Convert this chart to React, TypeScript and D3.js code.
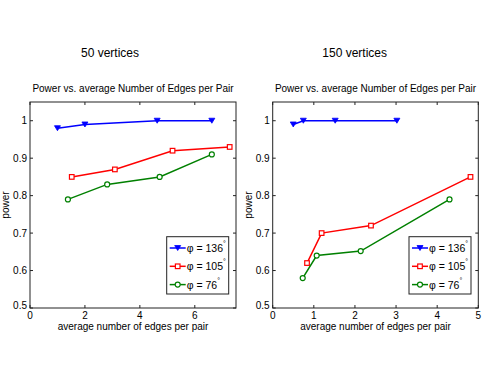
import React from "react";
import * as d3 from "d3";

// 50 vertices panel
const x50Blue = [1.0, 2.0, 4.63, 6.62];
const y50Blue = [0.98, 0.99, 1.0, 1.0];
const x50Red = [1.52, 3.09, 5.19, 7.27];
const y50Red = [0.85, 0.87, 0.92, 0.93];
const x50Green = [1.38, 2.81, 4.72, 6.62];
const y50Green = [0.79, 0.83, 0.85, 0.91];

// 150 vertices panel
const x150Blue = [0.5, 0.745, 1.52, 3.02];
const y150Blue = [0.99, 1.0, 1.0, 1.0];
const x150Red = [0.835, 1.19, 2.39, 4.81];
const y150Red = [0.62, 0.7, 0.72, 0.85];
const x150Green = [0.73, 1.07, 2.14, 4.3];
const y150Green = [0.58, 0.64, 0.652, 0.79];

const legendLabels = ["136", "105", "76"];
const seriesColors = ["#0000ff", "#ff0000", "#008000"];
const seriesMarkers = ["tri", "square", "circle"];

const yTicks = [0.5, 0.6, 0.7, 0.8, 0.9, 1];
const xTicks50 = [0, 2, 4, 6];
const xTicks150 = [0, 1, 2, 3, 4, 5];

const FONT = "'Liberation Sans', Arial, Helvetica, sans-serif";

function Marker({ kind, x, y, color }: { kind: string; x: number; y: number; color: string }) {
  if (kind === "tri") {
    return <path d={`M${x - 3},${y - 2.5}L${x + 3},${y - 2.5}L${x},${y + 2.5}Z`} fill={color} stroke={color} strokeWidth={0.8} />;
  }
  if (kind === "square") {
    return <rect x={x - 2.3} y={y - 2.3} width={4.6} height={4.6} fill="white" stroke={color} strokeWidth={1.2} />;
  }
  return <circle cx={x} cy={y} r={2.5} fill="white" stroke={color} strokeWidth={1.2} />;
}

type PanelProps = {
  left: number;
  right: number;
  xMax: number;
  xTicks: number[];
  series: [number[], number[]][];
  heading: string;
  headingX: number;
};

function Panel({ left, right, xMax, xTicks, series, heading, headingX }: PanelProps) {
  const top = 102;
  const bottom = 308;
  const x = d3.scaleLinear().domain([0, xMax]).range([left, right]);
  const y = d3.scaleLinear().domain([0.5, 1.05]).range([bottom, top]);
  const line = d3.line<[number, number]>().x(d => x(d[0])).y(d => y(d[1]));
  const tl = 3;

  const lx = right - 69.3;
  const ly = 236.7;

  return (
    <g>
      <text x={headingX} y={57} fontSize={12} textAnchor="middle">{heading}</text>
      <text x={(left + right) / 2} y={92} fontSize={10} textAnchor="middle">
        Power vs. average Number of Edges per Pair
      </text>
      <rect x={left} y={top} width={right - left} height={bottom - top} fill="white" stroke="#222" strokeWidth={1} />
      {xTicks.map(t => (
        <g key={"x" + t}>
          <line x1={x(t)} x2={x(t)} y1={bottom} y2={bottom - tl} stroke="#222" />
          <line x1={x(t)} x2={x(t)} y1={top} y2={top + tl} stroke="#222" />
          <text x={x(t)} y={318.5} fontSize={10} textAnchor="middle">{t}</text>
        </g>
      ))}
      {yTicks.map(t => (
        <g key={"y" + t}>
          <line x1={left} x2={left + tl} y1={y(t)} y2={y(t)} stroke="#222" />
          <line x1={right} x2={right - tl} y1={y(t)} y2={y(t)} stroke="#222" />
          <text x={left - 3} y={t === 0.5 ? y(t) + 0.5 : y(t) + 3.5} fontSize={10} textAnchor="end">{t}</text>
        </g>
      ))}
      <text x={(left + right) / 2} y={330} fontSize={10} textAnchor="middle">average number of edges per pair</text>
      <text transform={`translate(${left - 21},${(top + bottom) / 2}) rotate(-90)`} fontSize={10} textAnchor="middle">power</text>

      {series.map(([xs, ys], i) => {
        const pts = xs.map((v, j) => [v, ys[j]] as [number, number]);
        return (
          <g key={"s" + i}>
            <path d={line(pts) || ""} fill="none" stroke={seriesColors[i]} strokeWidth={1.5} />
            {pts.map((p, j) => (
              <Marker key={j} kind={seriesMarkers[i]} x={x(p[0])} y={y(p[1])} color={seriesColors[i]} />
            ))}
          </g>
        );
      })}

      <rect x={lx} y={ly} width={62} height={57.3} fill="white" stroke="#222" strokeWidth={1} />
      {legendLabels.map((lab, i) => {
        const ry = ly + 11.3 + i * 18.3;
        return (
          <g key={"l" + i}>
            <line x1={lx + 3} x2={lx + 19} y1={ry} y2={ry} stroke={seriesColors[i]} strokeWidth={1.5} />
            <Marker kind={seriesMarkers[i]} x={lx + 11} y={ry} color={seriesColors[i]} />
            <text x={lx + 20} y={ry + 4} fontSize={10.5}>
              {"\u03c6 = " + lab}
              <tspan fontSize={7} dy={-6}>{"\u00b0"}</tspan>
            </text>
          </g>
        );
      })}
    </g>
  );
}

export default function App() {
  return (
    <svg width={498} height={374} style={{ position: "absolute", left: 0, top: 0, fontFamily: FONT }}>
      <rect width={498} height={374} fill="white" />
      <Panel
        left={30}
        right={236}
        xMax={7.5}
        xTicks={xTicks50}
        series={[[x50Blue, y50Blue], [x50Red, y50Red], [x50Green, y50Green]]}
        heading="50 vertices"
        headingX={110}
      />
      <Panel
        left={272.7}
        right={478.3}
        xMax={5}
        xTicks={xTicks150}
        series={[[x150Blue, y150Blue], [x150Red, y150Red], [x150Green, y150Green]]}
        heading="150 vertices"
        headingX={354.7}
      />
    </svg>
  );
}
